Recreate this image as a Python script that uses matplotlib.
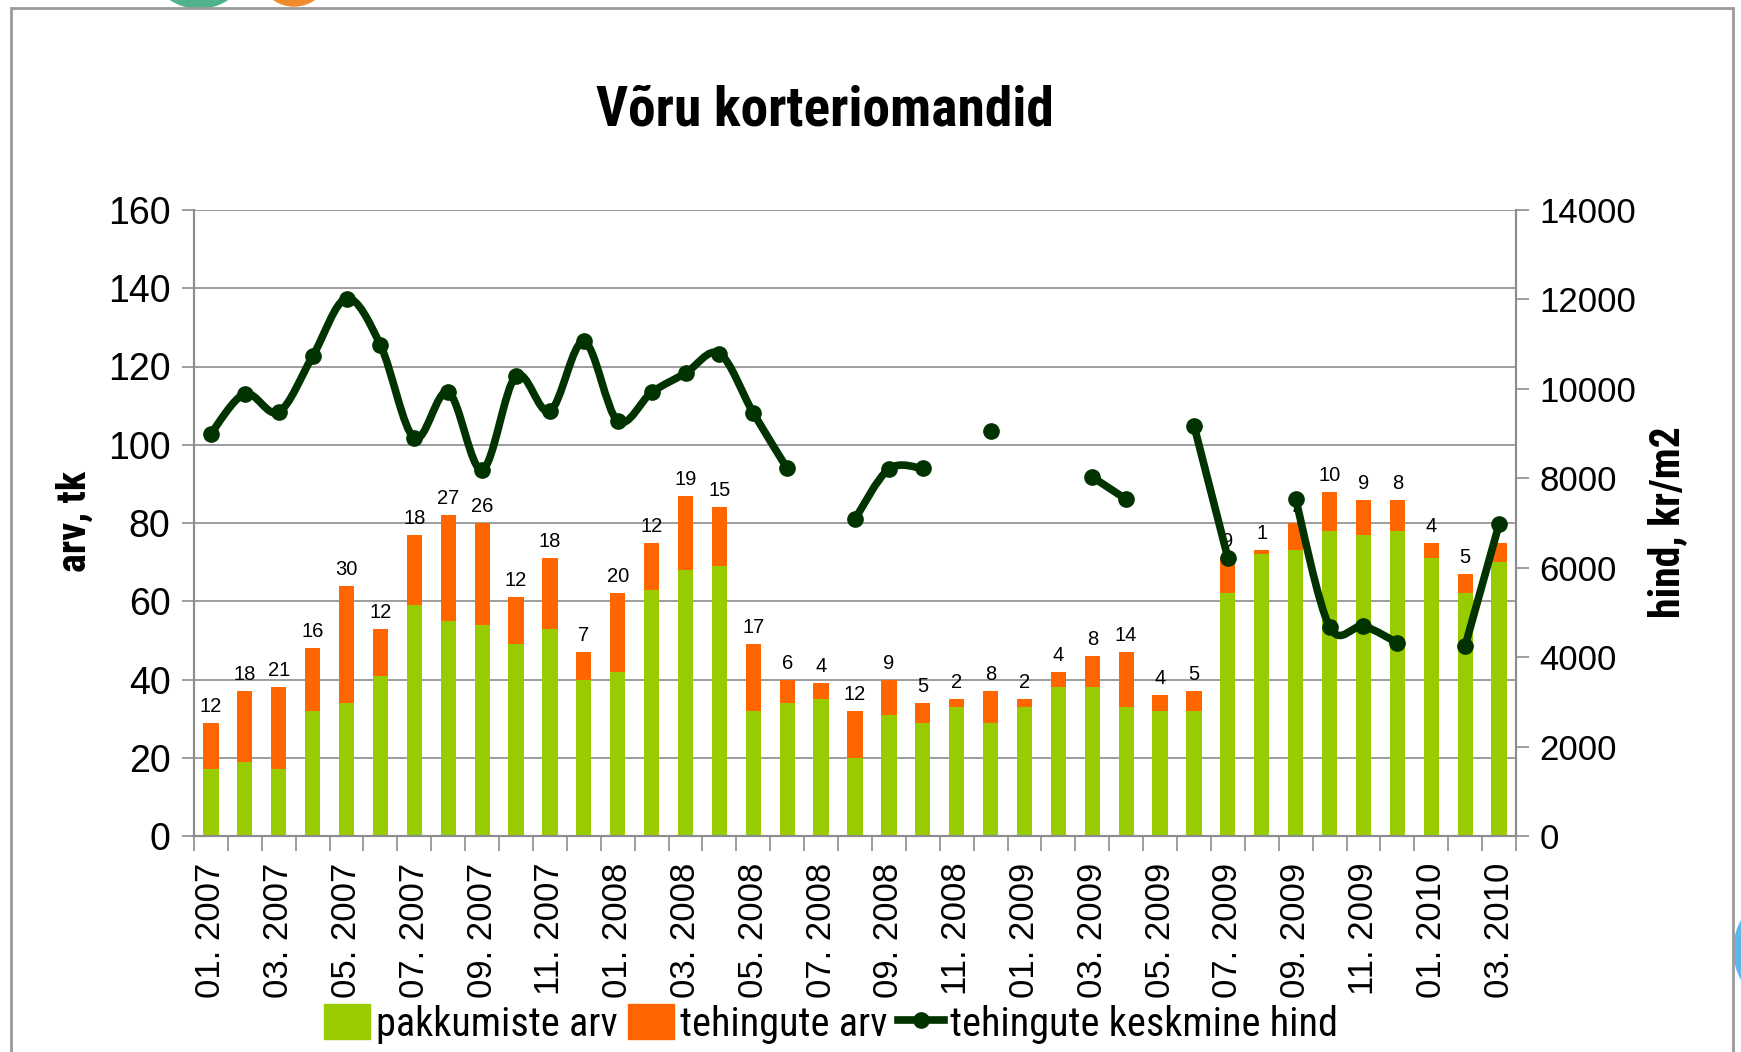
import numpy as np
import matplotlib
matplotlib.use('Agg')
import matplotlib.pyplot as plt
from matplotlib import font_manager
from matplotlib.path import Path
from matplotlib.patches import PathPatch, Patch, Rectangle, Ellipse
from matplotlib.lines import Line2D

# ---------------- data ----------------
months = ["01. 2007", "02. 2007", "03. 2007", "04. 2007", "05. 2007", "06. 2007",
          "07. 2007", "08. 2007", "09. 2007", "10. 2007", "11. 2007", "12. 2007",
          "01. 2008", "02. 2008", "03. 2008", "04. 2008", "05. 2008", "06. 2008",
          "07. 2008", "08. 2008", "09. 2008", "10. 2008", "11. 2008", "12. 2008",
          "01. 2009", "02. 2009", "03. 2009", "04. 2009", "05. 2009", "06. 2009",
          "07. 2009", "08. 2009", "09. 2009", "10. 2009", "11. 2009", "12. 2009",
          "01. 2010", "02. 2010", "03. 2010"]
pakkumiste_arv = [17, 19, 17, 32, 34, 41, 59, 55, 54, 49, 53, 40, 42, 63, 68, 69, 32, 34, 35, 20,
                  31, 29, 33, 29, 33, 38, 38, 33, 32, 32, 62, 72, 73, 78, 77, 78, 71, 62, 70]
tehingute_arv = [12, 18, 21, 16, 30, 12, 18, 27, 26, 12, 18, 7, 20, 12, 19, 15, 17, 6, 4, 12,
                 9, 5, 2, 8, 2, 4, 8, 14, 4, 5, 9, 1, 7, 10, 9, 8, 4, 5, 5]
keskmine_hind = [9000, 9890, 9480, 10730, 12020, 10980, 8900, 9930, 8190, 10290,
                 9500, 11060, 9280, 9920, 10350, 10790, 9460, 8220, None, 7090,
                 8210, 8220, None, 9060, None, None, 8030, 7530, None, 9180,
                 6220, None, 7530, 4680, 4690, 4320, None, 4250, 6970]
left_ticks = [0, 20, 40, 60, 80, 100, 120, 140, 160]
right_ticks = [0, 2000, 4000, 6000, 8000, 10000, 12000, 14000]

# ---------------- fonts ----------------
avail = {f.name for f in font_manager.fontManager.ttflist}
narrow = 'DejaVu Sans'
for cand in ['Roboto Condensed', 'Liberation Sans Narrow', 'Open Sans Condensed', 'Lato']:
    if cand in avail:
        narrow = cand
        break
plt.rcParams['font.family'] = ['Liberation Sans', 'DejaVu Sans']

W, H = 1741, 1052
fig = plt.figure(figsize=(W / 100, H / 100), dpi=100)

GREEN = '#99CC00'
ORANGE = '#FF6600'
LINE = '#013301'
GRID = '#8c8c8c'

ax = fig.add_axes([194 / W, 1 - 836 / H, (1516 - 194) / W, (836 - 210) / H])
x = np.arange(len(months))
ax.bar(x, pakkumiste_arv, width=0.45, color=GREEN, zorder=2)
ax.bar(x, tehingute_arv, width=0.45, bottom=pakkumiste_arv, color=ORANGE, zorder=2)
for i, (p, t) in enumerate(zip(pakkumiste_arv, tehingute_arv)):
    ax.annotate(str(t), (i, p + t), xytext=(0, 5), textcoords='offset points',
                ha='center', va='bottom', fontsize=14.5, color='black')

ax.set_xlim(-0.5, len(months) - 0.5)
ax.set_ylim(0, 160)
ax.set_yticks(left_ticks)
ax.yaxis.grid(True, color=GRID, lw=1.2)
ax.set_axisbelow(True)
ax.set_xticks(x[::2])
ax.set_xticklabels(months[::2], rotation=90, fontsize=25)
ax.set_xticks(np.arange(-0.5, len(months), 1), minor=True)
ax.tick_params(axis='x', which='major', length=0, pad=19)
ax.tick_params(axis='x', which='minor', length=11, width=1.2, color=GRID)
ax.tick_params(axis='y', length=9, width=1.2, color=GRID, labelsize=27, pad=8)
ax.spines['top'].set_visible(False)
for s in ['left', 'right', 'bottom']:
    ax.spines[s].set_color(GRID)
    ax.spines[s].set_linewidth(1.5)

ax2 = ax.twinx()
ax2.set_ylim(0, 14000)
ax2.set_yticks(right_ticks)
ax2.tick_params(axis='y', length=9, width=1.2, color=GRID, labelsize=25, pad=8)
ax2.spines['top'].set_visible(False)
for s in ['left', 'right', 'bottom']:
    ax2.spines[s].set_color(GRID)
    ax2.spines[s].set_linewidth(1.5)

# smoothed line segments (Excel style bezier through the data points)
runs, cur = [], []
for i, v in enumerate(keskmine_hind):
    if v is None:
        if cur:
            runs.append(cur)
        cur = []
    else:
        cur.append((i, v))
if cur:
    runs.append(cur)
for run in runs:
    pts = np.array(run, dtype=float)
    n = len(pts)
    if n < 2:
        continue
    verts = [pts[0]]
    codes = [Path.MOVETO]
    for k in range(n - 1):
        p0 = pts[k - 1] if k > 0 else pts[k]
        p1 = pts[k]
        p2 = pts[k + 1]
        p3 = pts[k + 2] if k + 2 < n else pts[k + 1]
        c1 = p1 + (p2 - p0) / 6.0
        c2 = p2 - (p3 - p1) / 6.0
        verts += [c1, c2, p2]
        codes += [Path.CURVE4] * 3
    ax2.add_patch(PathPatch(Path(verts, codes), fill=False, ec=LINE, lw=5.5,
                            capstyle='round', joinstyle='round', zorder=3))
xs = [i for i, v in enumerate(keskmine_hind) if v is not None]
ys = [v for v in keskmine_hind if v is not None]
ax2.plot(xs, ys, ls='none', marker='o', ms=11, color=LINE, zorder=4)

# texts
fig.text(825 / W, 1 - 111 / H, 'Võru korteriomandid', ha='center', va='center',
         fontsize=40, fontweight='bold', family=[narrow, 'DejaVu Sans'])
fig.text(75 / W, 1 - 521 / H, 'arv, tk', rotation=90, ha='center', va='center',
         fontsize=29, fontweight='bold', family=[narrow, 'DejaVu Sans'])
fig.text(1668 / W, 1 - 522 / H, 'hind, kr/m2', rotation=90, ha='center', va='center',
         fontsize=30, fontweight='bold', family=[narrow, 'DejaVu Sans'])

handles = [Patch(color=GREEN), Patch(color=ORANGE),
           Line2D([], [], color=LINE, lw=5.5, marker='o', ms=11)]
labels = ['pakkumiste arv', 'tehingute arv', 'tehingute keskmine hind']
fig.legend(handles, labels, loc='center', bbox_to_anchor=(831 / W, 1 - 1024 / H), ncol=3,
           frameon=False, prop={'family': [narrow, 'DejaVu Sans'], 'size': 29},
           handlelength=1.15, handleheight=0.95, handletextpad=0.15, columnspacing=0.25)

# frame and decorations
fig.patches.append(Rectangle((11 / W, -0.05), (1733 - 11) / W, 0.05 + 1 - 8 / H,
                             transform=fig.transFigure, fill=False, ec='#9a9a9a', lw=2))
fig.patches.append(Ellipse((199 / W, 1 + 22 / H), 82 / W, 60 / H, transform=fig.transFigure,
                           color='#4FB28A', zorder=0))
fig.patches.append(Ellipse((294 / W, 1 + 24 / H), 66 / W, 60 / H, transform=fig.transFigure,
                           color='#EF8B2C', zorder=0))
fig.patches.append(Ellipse((1762 / W, 1 - 950 / H), 56 / W, 86 / H, transform=fig.transFigure,
                           color='#5BB8E8', zorder=0))

fig.savefig('out.png', dpi=100)
